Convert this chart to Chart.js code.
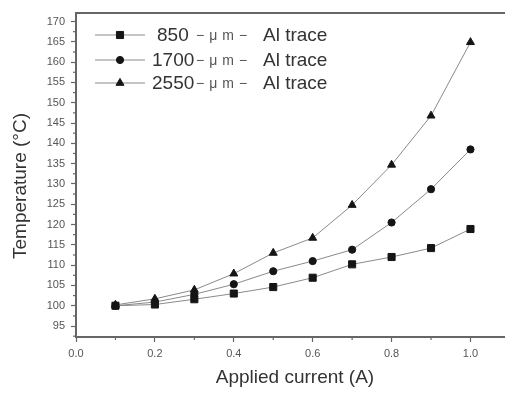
<!DOCTYPE html>
<html>
<head>
<meta charset="utf-8">
<script src="https://cdn.jsdelivr.net/npm/chart.js@4/dist/chart.umd.min.js"></script>
<style>
  html, body { margin: 0; padding: 0; background: #fff; overflow: hidden; }
  canvas { display: block; }
</style>
</head>
<body>
<canvas id="tempChart" width="510" height="394"></canvas>
<script>
// applied current (A) and measured temperatures for each trace width
const currents = [0.1, 0.2, 0.3, 0.4, 0.5, 0.6, 0.7, 0.8, 0.9, 1.0];
const trace850 = [100.0, 100.3, 101.6, 103.0, 104.6, 106.9, 110.2, 112.0, 114.2, 118.9];
const trace1700 = [100.0, 100.9, 102.8, 105.3, 108.5, 111.0, 113.8, 120.5, 128.7, 138.5];
const trace2550 = [100.2, 101.7, 103.9, 107.9, 113.0, 116.7, 124.8, 134.7, 146.8, 164.9];
const seriesNames = ["850", "1700", "2550"];

const yTicks = [95, 100, 105, 110, 115, 120, 125, 130, 135, 140, 145, 150, 155, 160, 165, 170];
const yMinorTicks = [92.5, 97.5, 102.5, 107.5, 112.5, 117.5, 122.5, 127.5, 132.5, 137.5, 142.5, 147.5, 152.5, 157.5, 162.5, 167.5];
const xTicks = [0.0, 0.2, 0.4, 0.6, 0.8, 1.0];
const xMinorTicks = [0.1, 0.3, 0.5, 0.7, 0.9];

const AXIS = "#666";
const TEXT = "#333";
const FONT = "'Liberation Sans', Arial, sans-serif";

function toPoints(values) {
  return currents.map((c, i) => ({ x: c, y: values[i] }));
}

function series(label, values, style, radius) {
  return {
    label: label,
    data: toPoints(values),
    borderColor: "#8a8a8a",
    borderWidth: 1,
    pointStyle: style,
    pointRadius: radius,
    pointBackgroundColor: "#151515",
    pointBorderColor: "#151515",
    pointBorderWidth: 1,
    tension: 0,
  };
}

const datasets = [
  series(seriesNames[0], trace850, "rect", 5),
  series(seriesNames[1], trace1700, "circle", 3.6),
  series(seriesNames[2], trace2550, "triangle", 4.6),
];

// minor ticks, axis titles and the legend block
const extras = {
  id: "extras",
  afterDraw(chart) {
    const ctx = chart.ctx;
    const xs = chart.scales.x;
    const ys = chart.scales.y;
    const area = chart.chartArea;

    ctx.save();
    ctx.strokeStyle = AXIS;
    ctx.lineWidth = 1.2;
    yMinorTicks.forEach((v) => {
      const py = ys.getPixelForValue(v);
      ctx.beginPath();
      ctx.moveTo(area.left - 3, py);
      ctx.lineTo(area.left, py);
      ctx.stroke();
    });
    xMinorTicks.forEach((v) => {
      const px = xs.getPixelForValue(v);
      ctx.beginPath();
      ctx.moveTo(px, area.bottom);
      ctx.lineTo(px, area.bottom + 3);
      ctx.stroke();
    });

    // axis titles
    ctx.fillStyle = TEXT;
    ctx.font = "19px " + FONT;
    ctx.textAlign = "center";
    ctx.textBaseline = "middle";
    ctx.fillText("Applied current (A)", 295, 378);
    ctx.save();
    ctx.translate(21, 186);
    ctx.rotate(-Math.PI / 2);
    ctx.fillText("Temperature (\u00B0C)", 0, 0);
    ctx.restore();

    // legend
    const rows = [35, 60, 83];
    const numX = [157, 152, 152];
    datasets.forEach((ds, i) => {
      const ry = rows[i];
      ctx.strokeStyle = ds.borderColor;
      ctx.lineWidth = 1;
      ctx.beginPath();
      ctx.moveTo(95, ry);
      ctx.lineTo(145, ry);
      ctx.stroke();
      ctx.fillStyle = ds.pointBackgroundColor;
      ctx.strokeStyle = ds.pointBorderColor;
      Chart.helpers.drawPoint(ctx, { pointStyle: ds.pointStyle, radius: ds.pointRadius, rotation: 0, borderWidth: 1 }, 120, ry);

      ctx.textAlign = "left";
      ctx.fillStyle = TEXT;
      ctx.font = "19px " + FONT;
      ctx.fillText(ds.label, numX[i], ry + 1);
      ctx.fillStyle = "#555";
      ctx.font = "14px " + FONT;
      ctx.letterSpacing = "5px";
      ctx.fillText("\u2212\u03BCm\u2212", 196, ry + 1);
      ctx.letterSpacing = "0px";
      ctx.fillStyle = TEXT;
      ctx.font = "19px " + FONT;
      ctx.fillText("Al trace", 263, ry + 1);
    });
    ctx.restore();
  },
};

new Chart(document.getElementById("tempChart"), {
  type: "line",
  data: { datasets: datasets },
  options: {
    responsive: false,
    animation: false,
    layout: { padding: 0 },
    plugins: {
      legend: { display: false },
      tooltip: { enabled: false },
    },
    scales: {
      x: {
        type: "linear",
        position: "bottom",
        min: 0,
        max: 1.085,
        afterBuildTicks: (scale) => {
          scale.ticks = xTicks.map((v) => ({ value: v }));
        },
        afterFit: (scale) => {
          scale.height = 57;
        },
        grid: { drawOnChartArea: false, tickLength: 5, tickColor: AXIS, tickWidth: 1.2 },
        border: { color: AXIS, width: 2 },
        ticks: {
          color: "#555",
          padding: 5,
          maxRotation: 0,
          font: { family: FONT, size: 11 },
          callback: (v) => Number(v).toFixed(1),
        },
      },
      xTop: {
        type: "linear",
        position: "top",
        min: 0,
        max: 1.085,
        afterFit: (scale) => {
          scale.height = 9;
        },
        grid: { drawOnChartArea: false, drawTicks: false },
        border: { color: AXIS, width: 2 },
        ticks: { display: false },
      },
      y: {
        type: "linear",
        position: "left",
        min: 92.3,
        max: 172.2,
        afterBuildTicks: (scale) => {
          scale.ticks = yTicks.map((v) => ({ value: v }));
        },
        afterFit: (scale) => {
          scale.width = 76;
        },
        grid: { drawOnChartArea: false, tickLength: 5, tickColor: AXIS, tickWidth: 1.2 },
        border: { color: AXIS, width: 2 },
        ticks: {
          color: "#555",
          padding: 6,
          font: { family: FONT, size: 11 },
        },
      },
    },
  },
  plugins: [extras],
});
</script>
</body>
</html>
